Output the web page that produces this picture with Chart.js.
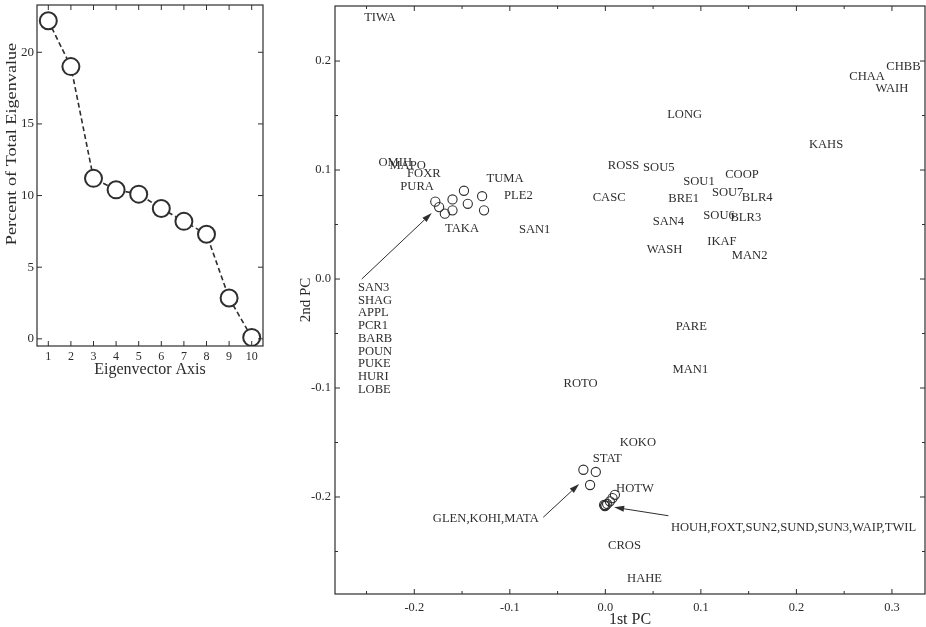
<!DOCTYPE html>
<html>
<head>
<meta charset="utf-8">
<script src="https://cdn.jsdelivr.net/npm/chart.js@4.4.0/dist/chart.umd.min.js"></script>
<style>
  html, body { margin: 0; padding: 0; background: #fff; overflow: hidden; }
  #left { position: absolute; left: 0; top: 0; width: 275px; height: 380px; }
  #right { position: absolute; left: 280px; top: 0; width: 646px; height: 627px; }
</style>
</head>
<body>
<div id="left"><canvas id="scree"></canvas></div>
<div id="right"><canvas id="pca"></canvas></div>
<script>
// --- scree plot data ---
const eigenAxis = [1, 2, 3, 4, 5, 6, 7, 8, 9, 10];
const eigenPercent = [22.2, 19.0, 11.2, 10.4, 10.1, 9.1, 8.2, 7.3, 2.85, 0.1];
const screeTicksX = [1, 2, 3, 4, 5, 6, 7, 8, 9, 10];
const screeTicksY = [0, 5, 10, 15, 20];
const screeTitleY = 'Percent of Total Eigenvalue';

// --- PCA scores: labelled sites ---
const siteNames = ['TIWA', 'OMIH', 'MAPO', 'FOXR', 'PURA', 'TUMA', 'PLE2', 'TAKA', 'SAN1', 'CASC',
  'ROSS', 'SOU5', 'LONG', 'CHBB', 'CHAA', 'WAIH', 'KAHS', 'COOP', 'SOU1', 'SOU7', 'BLR4', 'BRE1',
  'SOU6', 'BLR3', 'SAN4', 'IKAF', 'WASH', 'MAN2', 'PARE', 'MAN1', 'ROTO', 'KOKO', 'STAT', 'HOTW',
  'CROS', 'HAHE'];
const sitePC1 = [-0.236, -0.220, -0.207, -0.190, -0.197, -0.105, -0.091, -0.150, -0.074, 0.004,
  0.019, 0.056, 0.083, 0.312, 0.274, 0.300, 0.231, 0.143, 0.098, 0.128, 0.159, 0.082,
  0.119, 0.147, 0.066, 0.122, 0.062, 0.151, 0.090, 0.089, -0.026, 0.034, 0.002, 0.031,
  0.020, 0.041];
const sitePC2 = [0.240, 0.107, 0.104, 0.097, 0.085, 0.092, 0.076, 0.046, 0.045, 0.075,
  0.104, 0.102, 0.151, 0.195, 0.186, 0.175, 0.123, 0.096, 0.089, 0.079, 0.075, 0.074,
  0.058, 0.056, 0.053, 0.034, 0.027, 0.021, -0.044, -0.083, -0.096, -0.150, -0.165, -0.192,
  -0.245, -0.275];

// --- PCA scores: unlabelled points (circles) ---
const groupA_PC1 = [-0.178, -0.174, -0.168, -0.160, -0.160, -0.148, -0.144, -0.129, -0.127];
const groupA_PC2 = [0.071, 0.066, 0.060, 0.073, 0.063, 0.081, 0.069, 0.076, 0.063];
const groupB_PC1 = [-0.023, -0.010, -0.016];
const groupB_PC2 = [-0.175, -0.177, -0.189];
const groupC_PC1 = [0.010, 0.0075, 0.0047, 0.0019, 0.0002, -0.0005, -0.0013];
const groupC_PC2 = [-0.198, -0.201, -0.204, -0.2064, -0.2076, -0.2083, -0.2073];

// names of the circled groups
const groupANames = ['SAN3', 'SHAG', 'APPL', 'PCR1', 'BARB', 'POUN', 'PUKE', 'HURI', 'LOBE'];
const groupBNote = 'GLEN,KOHI,MATA';
const groupCNote = 'HOUH,FOXT,SUN2,SUND,SUN3,WAIP,TWIL';

// arrows (from, to) in score units
const arrowFromPC1 = [-0.255, -0.065, 0.066];
const arrowFromPC2 = [0.000, -0.2186, -0.2172];
const arrowToPC1 = [-0.1817, -0.0274, 0.0092];
const arrowToPC2 = [0.0606, -0.1881, -0.2094];

const pcaTicksX = [-0.2, -0.1, 0.0, 0.1, 0.2, 0.3];
const pcaMinorX = [-0.25, -0.15, -0.05, 0.05, 0.15, 0.25];
const pcaTicksY = [-0.2, -0.1, 0.0, 0.1, 0.2];
const pcaMinorY = [-0.25, -0.15, -0.05, 0.05, 0.15];

Chart.defaults.font.family = '"Liberation Serif", "DejaVu Serif", serif';
Chart.defaults.color = '#2b2b2b';

const INK = '#2e2e2e';

// keep the plot box exactly where the axis sizes put it
function fixSize(dim, size) {
    return s => {
        s[dim] = size;
        s.paddingTop = 0; s.paddingBottom = 0; s.paddingLeft = 0; s.paddingRight = 0;
    };
}

// box round the plot with inward tick marks on all four sides
function frameTicks(xMajor, xMinor, yMajor, yMinor) {
    return {
        id: 'frameTicks',
        afterDraw(chart) {
            const { ctx, chartArea: a, scales: { x, y } } = chart;
            ctx.save();
            ctx.strokeStyle = INK;
            ctx.lineWidth = 1.2;
            ctx.strokeRect(a.left, a.top, a.right - a.left, a.bottom - a.top);
            ctx.lineWidth = 1;
            ctx.beginPath();
            const xs = (vals, len) => vals.forEach(v => {
                const px = x.getPixelForValue(v);
                ctx.moveTo(px, a.bottom); ctx.lineTo(px, a.bottom - len);
                ctx.moveTo(px, a.top); ctx.lineTo(px, a.top + len);
            });
            const ys = (vals, len) => vals.forEach(v => {
                const py = y.getPixelForValue(v);
                ctx.moveTo(a.left, py); ctx.lineTo(a.left + len, py);
                ctx.moveTo(a.right, py); ctx.lineTo(a.right - len, py);
            });
            xs(xMajor, 5); xs(xMinor, 3);
            ys(yMajor, 5); ys(yMinor, 3);
            ctx.stroke();
            ctx.restore();
        }
    };
}

// the scanned y title is drawn tall and narrow, so stretch it along its length
const screeYTitle = {
    id: 'screeYTitle',
    afterDraw(chart) {
        const { ctx, chartArea: a } = chart;
        ctx.save();
        ctx.translate(12, a.top + 139);
        ctx.rotate(-Math.PI / 2);
        ctx.scale(1.3, 1);
        ctx.font = '14px "Liberation Serif", serif';
        ctx.fillStyle = '#2b2b2b';
        ctx.textAlign = 'center';
        ctx.textBaseline = 'middle';
        ctx.fillText(screeTitleY, 0, 0);
        ctx.restore();
    }
};

// --- Scree plot ---
new Chart(document.getElementById('scree'), {
    type: 'line',
    data: {
        datasets: [{
            data: eigenAxis.map((v, i) => ({ x: v, y: eigenPercent[i] })),
            borderColor: INK,
            borderWidth: 1.6,
            borderDash: [5, 3],
            pointRadius: 8.5,
            pointBorderWidth: 2,
            pointBackgroundColor: '#fff',
            pointBorderColor: INK,
            tension: 0
        }]
    },
    options: {
        responsive: true,
        maintainAspectRatio: false,
        animation: false,
        layout: { autoPadding: false, padding: { top: 5, right: 12, left: 0, bottom: 0 } },
        plugins: { legend: { display: false }, tooltip: { enabled: false } },
        scales: {
            x: {
                type: 'linear', min: 0.5, max: 10.5,
                grid: { display: false, drawTicks: false },
                border: { display: false },
                afterBuildTicks: s => { s.ticks = screeTicksX.map(v => ({ value: v })); },
                afterFit: fixSize('height', 34),
                ticks: { padding: 4, font: { size: 12 }, maxRotation: 0, autoSkip: false },
                title: { display: true, text: 'Eigenvector Axis', font: { size: 16 }, padding: { top: 0, bottom: 1 } }
            },
            y: {
                type: 'linear', min: -0.5, max: 23.3,
                grid: { display: false, drawTicks: false },
                border: { display: false },
                afterBuildTicks: s => { s.ticks = screeTicksY.map(v => ({ value: v })); },
                afterFit: fixSize('width', 37),
                ticks: { padding: 3, font: { size: 13 } }
            }
        }
    },
    plugins: [frameTicks(screeTicksX, [], screeTicksY, []), screeYTitle]
});

// --- PCA scatter: text labels and arrows ---
const pcaLabels = {
    id: 'pcaLabels',
    afterDatasetsDraw(chart) {
        const { ctx, scales: { x, y } } = chart;
        ctx.save();
        ctx.fillStyle = INK;
        ctx.strokeStyle = INK;
        ctx.font = '12.6px "Liberation Serif", serif';
        ctx.textBaseline = 'middle';
        ctx.textAlign = 'center';
        siteNames.forEach((name, i) => {
            ctx.fillText(name, x.getPixelForValue(sitePC1[i]), y.getPixelForValue(sitePC2[i]));
        });

        ctx.textAlign = 'left';
        const listX = x.getPixelForValue(-0.259);
        const listY = y.getPixelForValue(-0.008);
        groupANames.forEach((name, i) => ctx.fillText(name, listX, listY + i * 12.7));
        ctx.fillText(groupBNote, x.getPixelForValue(-0.1806), y.getPixelForValue(-0.2202));
        ctx.fillText(groupCNote, x.getPixelForValue(0.0686), y.getPixelForValue(-0.2284));

        ctx.lineWidth = 1;
        arrowFromPC1.forEach((_, i) => {
            const x0 = x.getPixelForValue(arrowFromPC1[i]), y0 = y.getPixelForValue(arrowFromPC2[i]);
            const x1 = x.getPixelForValue(arrowToPC1[i]), y1 = y.getPixelForValue(arrowToPC2[i]);
            const ang = Math.atan2(y1 - y0, x1 - x0);
            const hl = 10, hw = 3;
            const bx = x1 - hl * Math.cos(ang), by = y1 - hl * Math.sin(ang);
            ctx.beginPath();
            ctx.moveTo(x0, y0);
            ctx.lineTo(bx, by);
            ctx.stroke();
            ctx.beginPath();
            ctx.moveTo(x1, y1);
            ctx.lineTo(bx + hw * Math.sin(ang), by - hw * Math.cos(ang));
            ctx.lineTo(bx - hw * Math.sin(ang), by + hw * Math.cos(ang));
            ctx.closePath();
            ctx.fill();
        });
        ctx.restore();
    }
};

const circleStyle = {
    pointRadius: 4.6,
    pointBorderWidth: 1.1,
    pointBorderColor: INK,
    pointBackgroundColor: 'rgba(0,0,0,0)',
    showLine: false
};

new Chart(document.getElementById('pca'), {
    type: 'scatter',
    data: {
        datasets: [
            Object.assign({ data: groupA_PC1.map((v, i) => ({ x: v, y: groupA_PC2[i] })) }, circleStyle),
            Object.assign({ data: groupB_PC1.map((v, i) => ({ x: v, y: groupB_PC2[i] })) }, circleStyle),
            Object.assign({ data: groupC_PC1.map((v, i) => ({ x: v, y: groupC_PC2[i] })) }, circleStyle)
        ]
    },
    options: {
        responsive: true,
        maintainAspectRatio: false,
        animation: false,
        layout: { autoPadding: false, padding: { top: 6, right: 1, left: 0, bottom: 0 } },
        plugins: { legend: { display: false }, tooltip: { enabled: false } },
        scales: {
            x: {
                type: 'linear', min: -0.283, max: 0.3346,
                grid: { display: false, drawTicks: false },
                border: { display: false },
                afterBuildTicks: s => { s.ticks = pcaTicksX.map(v => ({ value: v })); },
                afterFit: fixSize('height', 33),
                ticks: { padding: 6, font: { size: 12.4 }, maxRotation: 0, autoSkip: false,
                    callback: v => v.toFixed(1) },
                title: { display: true, text: '1st PC', font: { size: 16 }, padding: { top: 0, bottom: -2 } }
            },
            y: {
                type: 'linear', min: -0.289, max: 0.2505,
                grid: { display: false, drawTicks: false },
                border: { display: false },
                afterBuildTicks: s => { s.ticks = pcaTicksY.map(v => ({ value: v })); },
                afterFit: fixSize('width', 55),
                ticks: { padding: 4, font: { size: 12.6 }, callback: v => v.toFixed(1) },
                title: { display: true, text: '2nd PC', font: { size: 15 }, padding: { top: 17, bottom: 0 } }
            }
        }
    },
    plugins: [frameTicks(pcaTicksX, pcaMinorX, pcaTicksY, pcaMinorY), pcaLabels]
});
</script>
</body>
</html>
